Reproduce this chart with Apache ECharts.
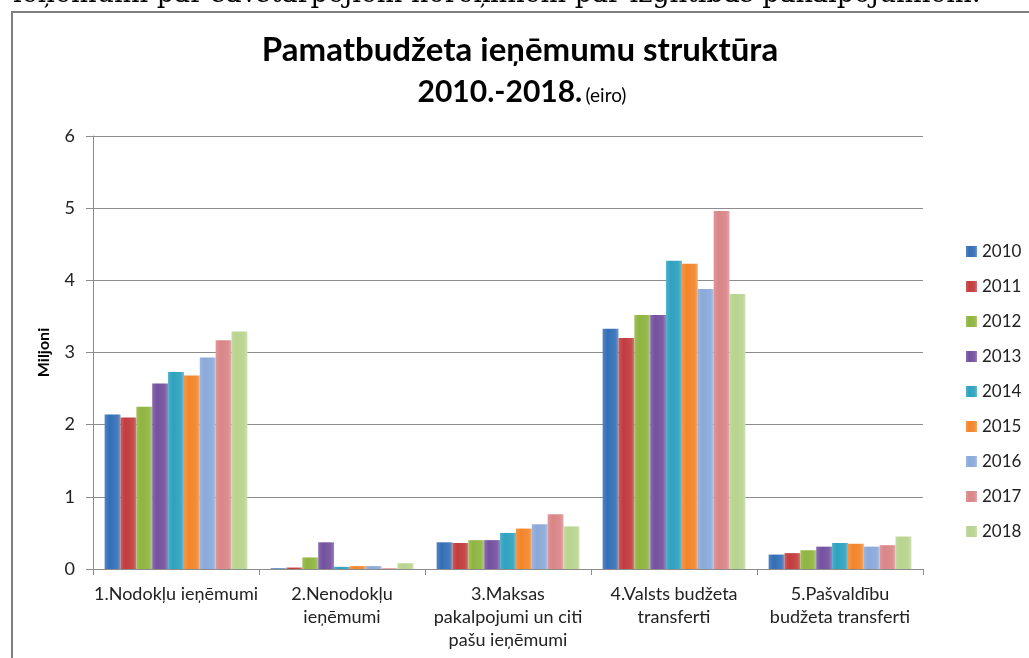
<!DOCTYPE html>
<html>
<head>
<meta charset="utf-8">
<script src="https://cdn.jsdelivr.net/npm/echarts@6/dist/echarts.min.js"></script>
<style>
  html, body { margin: 0; padding: 0; background: #fff; }
  #chart { width: 1029px; height: 658px; }
</style>
</head>
<body>
<div id="chart"></div>
<script>
  var categories = ['1.Nodokļu ieņēmumi', '2.Nenodokļu\nieņēmumi', '3.Maksas\npakalpojumi un citi\npašu ieņēmumi', '4.Valsts budžeta\ntransferti', '5.Pašvaldību\nbudžeta transferti'];
  var years = ['2010', '2011', '2012', '2013', '2014', '2015', '2016', '2017', '2018'];
  var yTicks = [0, 1, 2, 3, 4, 5, 6];

  // miljoni eiro, pa kategorijām
  var v2010 = [2.14, 0.01, 0.37, 3.33, 0.20];
  var v2011 = [2.10, 0.02, 0.36, 3.20, 0.22];
  var v2012 = [2.25, 0.16, 0.40, 3.52, 0.26];
  var v2013 = [2.57, 0.37, 0.40, 3.52, 0.31];
  var v2014 = [2.73, 0.03, 0.50, 4.27, 0.36];
  var v2015 = [2.68, 0.04, 0.56, 4.23, 0.35];
  var v2016 = [2.93, 0.04, 0.62, 3.88, 0.31];
  var v2017 = [3.17, 0.01, 0.76, 4.96, 0.33];
  var v2018 = [3.29, 0.08, 0.59, 3.81, 0.45];
  var values = [v2010, v2011, v2012, v2013, v2014, v2015, v2016, v2017, v2018];

  var colors = ['#336fb7', '#c23c3e', '#8fb43f', '#74519f', '#2ea2bf', '#f3852a', '#8aa9d9', '#da8587', '#b8d48f'];

  var font = 'Lato, "Open Sans", sans-serif';
  var gray = '#8c8c8c';

  function bevel(c) {
    return new echarts.graphic.LinearGradient(0, 0, 1, 0, [
      { offset: 0, color: echarts.color.lift(c, 0.15) },
      { offset: 0.3, color: c },
      { offset: 0.8, color: echarts.color.lift(c, 0.08) },
      { offset: 1, color: echarts.color.lift(c, 0.3) }
    ]);
  }

  var series = years.map(function (y, i) {
    return {
      name: y,
      type: 'bar',
      barGap: '0%',
      barCategoryGap: '14%',
      itemStyle: { color: bevel(colors[i]) },
      data: values[i]
    };
  });

  var myChart = echarts.init(document.getElementById('chart'));

  var option = {
    backgroundColor: '#fff',
    animation: false,
    textStyle: { fontFamily: font },
    graphic: [
      {
        type: 'text',
        left: 13,
        top: -19,
        style: {
          text: 'ieņēmumi par savstarpējiem norēķiniem par izglītības pakalpojumiem.',
          font: '27px "DejaVu Serif", serif',
          fill: '#000'
        }
      },
      {
        type: 'rect',
        shape: { x: 12, y: 12, width: 1100, height: 700 },
        style: { fill: 'none', stroke: '#7f7f7f', lineWidth: 2 }
      },
      {
        type: 'text',
        x: 520,
        y: 50,
        style: {
          text: 'Pamatbudžeta ieņēmumu struktūra',
          font: 'bold 33px ' + font,
          fill: '#000',
          align: 'center',
          verticalAlign: 'middle'
        }
      },
      {
        type: 'text',
        x: 522,
        y: 92,
        style: {
          text: '{a|2010.-2018.} {b|(eiro)}',
          fill: '#000',
          align: 'center',
          verticalAlign: 'middle',
          rich: {
            a: { fontFamily: font, fontSize: 30, fontWeight: 'bold', color: '#000', verticalAlign: 'bottom' },
            b: { fontFamily: font, fontSize: 19, color: '#000', verticalAlign: 'bottom', padding: [0, 0, 2, 0] }
          }
        }
      }
    ],
    legend: {
      orient: 'vertical',
      left: 961,
      top: 238,
      itemWidth: 11,
      itemHeight: 11,
      itemGap: 18,
      icon: 'rect',
      textStyle: { fontFamily: font, fontSize: 17, color: '#222', lineHeight: 16 },
      data: years
    },
    grid: {
      left: 93,
      right: 106,
      top: 136,
      bottom: 89
    },
    xAxis: {
      type: 'category',
      data: categories,
      axisLine: { show: true, lineStyle: { color: gray } },
      axisTick: { show: true, length: 6, interval: 0, lineStyle: { color: gray } },
      axisLabel: { interval: 0, fontSize: 18, lineHeight: 23, margin: 14, color: '#222', fontFamily: font }
    },
    yAxis: {
      type: 'value',
      min: yTicks[0],
      max: yTicks[yTicks.length - 1],
      interval: 1,
      name: 'Miljoni',
      nameLocation: 'middle',
      nameRotate: 90,
      nameGap: 41,
      nameTextStyle: { fontFamily: font, fontSize: 16, fontWeight: 'bold', color: '#000' },
      axisLine: { show: true, lineStyle: { color: gray } },
      axisTick: { show: true, length: 7, lineStyle: { color: gray } },
      axisLabel: { fontSize: 18, margin: 18, color: '#222', fontFamily: font },
      splitLine: { show: true, lineStyle: { color: gray, width: 1 } }
    },
    series: series
  };

  option && myChart.setOption(option);
</script>
</body>
</html>
